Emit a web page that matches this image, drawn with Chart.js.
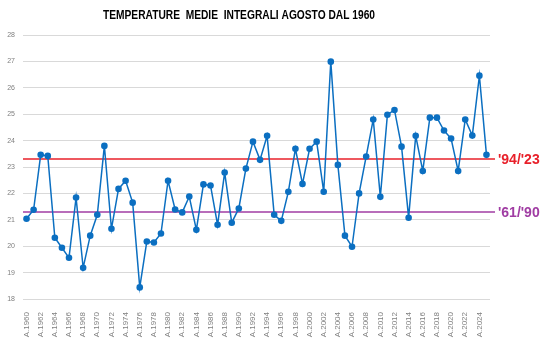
<!DOCTYPE html>
<html>
<head>
<meta charset="utf-8">
<script src="https://cdn.jsdelivr.net/npm/chart.js@4/dist/chart.umd.min.js"></script>
<style>
  html, body { margin: 0; padding: 0; background: #fff; }
  #wrap { width: 547px; height: 341px; }
</style>
</head>
<body>
<div id="wrap"><canvas id="tempChart" width="547" height="341"></canvas></div>
<script>
// August integral mean temperatures, 1960 - 2025
const years = [];
for (let y = 1960; y <= 2025; y++) years.push('A.' + y);

const temps = [
  21.04, 21.38, 23.46, 23.42, 20.32, 19.94, 19.56, 21.84, 19.18, 20.40,
  21.19, 23.80, 20.66, 22.17, 22.48, 21.65, 18.44, 20.18, 20.14, 20.48,
  22.48, 21.39, 21.28, 21.88, 20.62, 22.34, 22.30, 20.81, 22.79, 20.89,
  21.43, 22.94, 23.96, 23.27, 24.18, 21.19, 20.96, 22.06, 23.69, 22.36,
  23.69, 23.96, 22.06, 26.99, 23.08, 20.40, 19.98, 22.00, 23.40, 24.80,
  21.87, 24.98, 25.16, 23.77, 21.08, 24.18, 22.85, 24.87, 24.87, 24.38,
  24.08, 22.85, 24.80, 24.19, 26.46, 23.46
];

// reference averages
const refLabels = ["'94/'23", "'61/'90"];
const refValues = [23.3, 21.3];
const refColors = ['#e8202a', '#a03ca3'];

const yTicks = [18, 19, 20, 21, 22, 23, 24, 25, 26, 27, 28];

const extras = {
  id: 'extras',
  beforeDatasetsDraw(chart) {
    const ctx = chart.ctx;
    const area = chart.chartArea;
    const yScale = chart.scales.y;
    ctx.save();
    refValues.forEach((v, i) => {
      const py = yScale.getPixelForValue(v);
      ctx.strokeStyle = refColors[i];
      ctx.lineWidth = 1.5;
      ctx.beginPath();
      ctx.moveTo(area.left, py);
      ctx.lineTo(area.right + 5, py);
      ctx.stroke();
      ctx.fillStyle = refColors[i];
      ctx.font = 'bold 14px "Liberation Sans", Arial, sans-serif';
      ctx.textAlign = 'left';
      ctx.textBaseline = 'middle';
      ctx.fillText(refLabels[i], area.right + 8, py + 1, 43);
    });
    // title
    ctx.fillStyle = '#000';
    ctx.font = 'bold 12px "Liberation Sans", Arial, sans-serif';
    ctx.textAlign = 'center';
    ctx.textBaseline = 'middle';
    ctx.fillText('TEMPERATURE  MEDIE  INTEGRALI AGOSTO DAL 1960', 239, 16, 272);
    ctx.restore();
  }
};

const ctx = document.getElementById('tempChart').getContext('2d');
new Chart(ctx, {
  type: 'line',
  data: {
    labels: years,
    datasets: [{
      data: temps,
      borderColor: '#0b6fc1',
      backgroundColor: '#0b6fc1',
      borderWidth: 1.5,
      pointRadius: 3.3,
      pointBorderWidth: 0,
      pointBackgroundColor: '#0b6fc1',
      tension: 0
    }]
  },
  options: {
    responsive: false,
    animation: false,
    layout: { padding: { top: 35, right: 57, left: 0, bottom: 0 } },
    plugins: {
      legend: { display: false },
      tooltip: { enabled: false }
    },
    scales: {
      x: {
        offset: true,
        grid: { display: false },
        border: { display: false },
        ticks: {
          autoSkip: false,
          maxRotation: 90,
          minRotation: 90,
          padding: 5,
          color: '#7f7f7f',
          font: { size: 8, family: '"Liberation Sans", Arial, sans-serif' },
          callback: function (val, idx) {
            return idx % 2 === 0 ? this.getLabelForValue(val) : '';
          }
        },
        afterFit(scale) { scale.height = 42; }
      },
      y: {
        min: 18,
        max: 28,
        afterBuildTicks(scale) { scale.ticks = yTicks.map(v => ({ value: v })); },
        grid: { color: '#d9d9d9', lineWidth: 1, drawTicks: false },
        border: { display: false },
        ticks: {
          padding: 8,
          color: '#7f7f7f',
          font: { size: 7, family: '"Liberation Sans", Arial, sans-serif' }
        },
        afterFit(scale) { scale.width = 23; }
      }
    }
  },
  plugins: [extras]
});
</script>
</body>
</html>
